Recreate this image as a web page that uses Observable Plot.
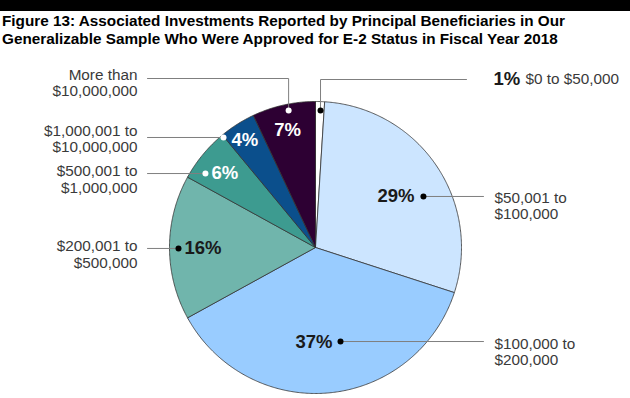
<!DOCTYPE html>
<html>
<head>
<meta charset="utf-8">
<script src="https://cdn.jsdelivr.net/npm/d3@7"></script>
<script src="https://cdn.jsdelivr.net/npm/@observablehq/plot@0.6"></script>
<style>
  html, body { margin: 0; padding: 0; background: #fff; }
  body { width: 630px; height: 398px; overflow: hidden; font-family: "Liberation Sans", Arial, sans-serif; }
  #bar { height: 11px; background: #000; }
  #title { height: 35px; box-sizing: border-box; padding: 1px 0 0 2px; overflow: visible; white-space: nowrap;
           font-weight: bold; font-size: 15.3px; line-height: 17.5px; color: #000; }
  #chart svg { display: block; }
</style>
</head>
<body>
<div id="bar"></div>
<div id="title">Figure 13: Associated Investments Reported by Principal Beneficiaries in Our<br>Generalizable Sample Who Were Approved for E-2 Status in Fiscal Year 2018</div>
<div id="chart"></div>
<script>
// ---- data ----
const categories = [
  "$0 to $50,000",
  "$50,001 to\n$100,000",
  "$100,000 to\n$200,000",
  "$200,001 to\n$500,000",
  "$500,001 to\n$1,000,000",
  "$1,000,001 to\n$10,000,000",
  "More than\n$10,000,000"
];
const shares = [1, 29, 37, 16, 6, 4, 7];
const sliceColors = ["#ffffff", "#cce5ff", "#99ccff", "#70b5ac", "#3d9b90", "#0b4f8c", "#2d0033"];
const pctInk = ["#1a1a1a", "#1a1a1a", "#1a1a1a", "#1a1a1a", "#ffffff", "#ffffff", "#ffffff"];

// ---- layout (page pixel coordinates) ----
const TOP = 46, W = 630, H = 398 - TOP;
const CX = 315, CY = 247, R = 146;
// dot anchor in polar coords (deg clockwise from 12 o'clock, radius px), leader routing and label placement
const annot = [
  {a: 2.1,   r: 137,   elbowY: 79,  endX: 466, labX: 525, labY: 78.5, side: "start", pdx: 0,  pdy: 0,  pAnchor: "start", pAt: [493, 78.5]},
  {a: 64.7,  r: 119.4, elbowY: null, endX: 483, labX: 494, labY: 205,  side: "start", pdx: -9, pdy: 0,  pAnchor: "end"},
  {a: 165.1, r: 97.3,  elbowY: null, endX: 483, labX: 494, labY: 351,  side: "start", pdx: -8, pdy: 1,  pAnchor: "end"},
  {a: 269.6, r: 137,   elbowY: null, endX: 147, labX: 137, labY: 253.5, side: "end", pdx: 6,  pdy: 0,  pAnchor: "start"},
  {a: 303.9, r: 132.6, elbowY: null, endX: 147, labX: 137, labY: 178.5, side: "end", pdx: 6,  pdy: 0,  pAnchor: "start"},
  {a: 320.1, r: 143.4, elbowY: null, endX: 147, labX: 137, labY: 138,  side: "end", pdx: 8,  pdy: 3,  pAnchor: "start"},
  {a: 348.9, r: 139.6, elbowY: 78,  endX: 147, labX: 137, labY: 82,   side: "end", pdx: -1, pdy: 20, pAnchor: "middle"}
];

const rad = d => d * Math.PI / 180;
const polar = (deg, r) => [CX + r * Math.sin(rad(deg)), CY - r * Math.cos(rad(deg))];

// slice polygons
const total = d3.sum(shares);
const slicePts = [];
let acc = 0;
shares.forEach((v, i) => {
  const a0 = acc / total * 360, a1 = (acc + v) / total * 360;
  acc += v;
  slicePts.push({k: i, x: CX, y: CY, c: sliceColors[i]});
  const n = Math.max(2, Math.ceil((a1 - a0) / 0.5));
  for (let j = 0; j <= n; j++) {
    const [x, y] = polar(a0 + (a1 - a0) * j / n, R);
    slicePts.push({k: i, x, y, c: sliceColors[i]});
  }
  slicePts.push({k: i, x: CX, y: CY, c: sliceColors[i]});
});

// dots, leaders, labels
const dots = annot.map((o, i) => {
  const [x, y] = polar(o.a, o.r);
  return {i, x, y, c: i >= 4 ? "#ffffff" : "#000000"};
});
const leaders = [];
annot.forEach((o, i) => {
  const d = dots[i];
  leaders.push({k: i, x: d.x, y: d.y});
  if (o.elbowY != null) {
    leaders.push({k: i, x: d.x, y: o.elbowY});
    leaders.push({k: i, x: o.endX, y: o.elbowY});
  } else {
    leaders.push({k: i, x: o.endX, y: d.y});
  }
});
const pctText = annot.map((o, i) => {
  const d = dots[i];
  const pos = o.pAt ? o.pAt : [d.x + o.pdx, d.y + o.pdy];
  return {i, x: pos[0], y: pos[1], t: shares[i] + "%", c: pctInk[i], anchor: o.pAnchor};
});
const catText = annot.map((o, i) => ({i, x: o.labX, y: o.labY, t: categories[i], anchor: o.side}));

const font = "Liberation Sans, Arial, sans-serif";
const plot = Plot.plot({
  width: W, height: H,
  margin: 0,
  x: {domain: [0, W], range: [0, W], axis: null},
  y: {domain: [TOP, 398], range: [0, H], axis: null},
  color: {type: "identity"},
  style: {fontFamily: font, background: "#fff"},
  marks: [
    Plot.line(slicePts, {x: "x", y: "y", z: "k", fill: "c", stroke: "#333", strokeWidth: 0.8, strokeLinejoin: "round"}),
    Plot.line(leaders, {x: "x", y: "y", z: "k", stroke: "#7f7f7f", strokeWidth: 1}),
    Plot.dot(dots, {x: "x", y: "y", r: 3, fill: "c", stroke: null}),
    ...["start", "middle", "end"].map(a =>
      Plot.text(pctText.filter(d => d.anchor === a), {x: "x", y: "y", text: "t", fill: "c", textAnchor: a,
        fontSize: 18.5, fontWeight: "bold", fontFamily: font})),
    ...["start", "end"].map(a =>
      Plot.text(catText.filter(d => d.anchor === a), {x: "x", y: "y", text: "t", fill: "#3a3a3a", textAnchor: a,
        lineAnchor: "middle", lineHeight: 1.08, fontSize: 15.3, fontFamily: font}))
  ]
});
document.getElementById("chart").appendChild(plot);
</script>
</body>
</html>
